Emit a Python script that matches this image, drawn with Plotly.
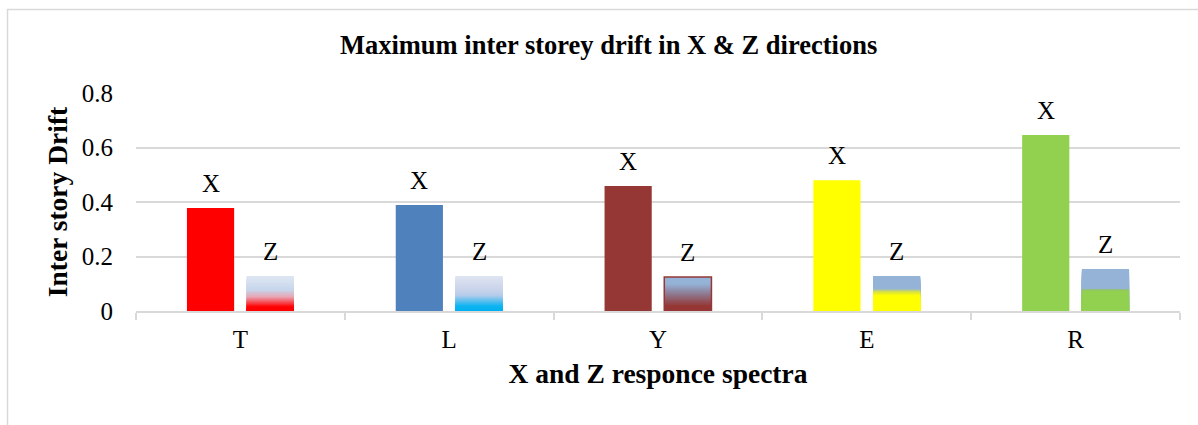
import plotly.graph_objects as go

# Categories and drift values
categories = ["T", "L", "Y", "E", "R"]
x_drift = [0.378, 0.389, 0.459, 0.480, 0.646]
z_drift = [0.128, 0.128, 0.125, 0.128, 0.154]
yticks = [0, 0.2, 0.4, 0.6, 0.8]
ytick_text = ["0", "0.2", "0.4", "0.6", "0.8"]

x_colors = ["#FF0000", "#4F81BD", "#953735", "#FFFF00", "#92D050"]

# Vertical gradient stops for Z bars: (fraction from bottom, colour)
z_gradients = [
    [(0.0, "#FF0000"), (0.12, "#FF0000"), (0.4, "#E9A3B3"), (0.6, "#C6D5EC"), (1.0, "#DFE7F2")],
    [(0.0, "#00B0F0"), (0.15, "#10B4F0"), (0.45, "#B5CCEB"), (0.6, "#C8D2EA"), (1.0, "#DFE5F1")],
    [(0.0, "#953735"), (0.15, "#953735"), (0.5, "#8E7A92"), (0.8, "#95B3D7"), (1.0, "#95B3D7")],
    [(0.0, "#FFFF00"), (0.44, "#FFFF00"), (0.55, "#D6E040"), (0.64, "#95B3D7"), (1.0, "#95B3D7")],
    [(0.0, "#92D050"), (0.47, "#92D050"), (0.51, "#93C17A"), (0.54, "#95B3D7"), (1.0, "#95B3D7")],
]

BAR_W = 0.226
X_OFF = -0.256
Z_OFF = 0.03
FONT = "Liberation Serif, Times New Roman, serif"


def hex_rgb(h):
    h = h.lstrip("#")
    return tuple(int(h[i:i + 2], 16) for i in (0, 2, 4))


def color_at(stops, f):
    for (f0, c0), (f1, c1) in zip(stops[:-1], stops[1:]):
        if f0 <= f <= f1:
            t = 0 if f1 == f0 else (f - f0) / (f1 - f0)
            a, b = hex_rgb(c0), hex_rgb(c1)
            r = [round(a[i] + (b[i] - a[i]) * t) for i in range(3)]
            return "rgb({},{},{})".format(*r)
    return stops[-1][1]


fig = go.Figure()

fig.add_trace(go.Bar(
    x=categories, y=x_drift, name="X",
    marker=dict(color=x_colors, line=dict(width=0)),
    offset=X_OFF, width=BAR_W,
))

# Z bars with a vertical colour gradient, drawn as overlapping layers
layers = 40
for k in range(layers):
    frac = 1 - k / layers
    mid = frac - 0.5 / layers
    fig.add_trace(go.Bar(
        x=categories, y=[v * frac for v in z_drift],
        marker=dict(color=[color_at(g, mid) for g in z_gradients], line=dict(width=0)),
        offset=Z_OFF, width=BAR_W, showlegend=False, hoverinfo="skip",
    ))

# Outline for the Z bars (only the Y bar has a visible border)
fig.add_trace(go.Bar(
    x=categories, y=z_drift, name="Z",
    marker=dict(color="rgba(0,0,0,0)",
                line=dict(color=["rgba(0,0,0,0)", "rgba(0,0,0,0)", "#953735",
                                 "rgba(0,0,0,0)", "rgba(0,0,0,0)"], width=1.5)),
    offset=Z_OFF, width=BAR_W,
))

annotations = []
for i, c in enumerate(categories):
    annotations.append(dict(x=i + X_OFF + BAR_W / 2, y=x_drift[i], text="X",
                            showarrow=False, yanchor="bottom", yshift=9,
                            font=dict(family=FONT, size=25, color="#000000")))
    annotations.append(dict(x=i + Z_OFF + BAR_W / 2, y=z_drift[i], text="Z",
                            showarrow=False, yanchor="bottom", yshift=9,
                            font=dict(family=FONT, size=25, color="#000000")))

fig.update_layout(
    width=1198, height=425,
    margin=dict(l=136, r=18, t=93, b=114),
    paper_bgcolor="#FFFFFF", plot_bgcolor="#FFFFFF",
    barmode="overlay",
    showlegend=False,
    title=dict(text="<b>Maximum inter storey drift in X &amp; Z directions</b>",
               x=0.508, xanchor="center", y=1 - 45 / 425, yanchor="middle",
               font=dict(family=FONT, size=26.5, color="#000000")),
    font=dict(family=FONT, size=25, color="#000000"),
    annotations=annotations,
    shapes=[dict(type="rect", xref="paper", yref="paper",
                 x0=(7.5 - 136) / 1044, x1=1.5, y0=-1.0, y1=(311 - 9.5) / 218,
                 line=dict(color="#D9D9D9", width=1.5), fillcolor="rgba(0,0,0,0)",
                 layer="below")],
)

fig.update_xaxes(
    type="category", tickson="boundaries",
    showgrid=False, showline=True, linecolor="#D9D9D9", linewidth=1.5,
    ticks="outside", ticklen=7, tickcolor="#D9D9D9", tickwidth=1.5,
    ticklabelstandoff=5,
    tickfont=dict(family=FONT, size=25, color="#000000"),
    title=dict(text="<b>X and Z responce spectra</b>", standoff=12,
               font=dict(family=FONT, size=27.5, color="#000000")),
    range=[-0.5, 4.5],
)

fig.update_yaxes(
    range=[0, 0.8], tickvals=yticks, ticktext=ytick_text,
    showgrid=True, gridcolor="#D9D9D9", gridwidth=1.5,
    zeroline=False, showline=False, ticks="", ticklabelstandoff=22,
    tickfont=dict(family=FONT, size=25, color="#000000"),
    title=dict(text="<b>Inter story Drift</b>", standoff=6,
               font=dict(family=FONT, size=27.5, color="#000000")),
)

fig.write_html("out.html")
